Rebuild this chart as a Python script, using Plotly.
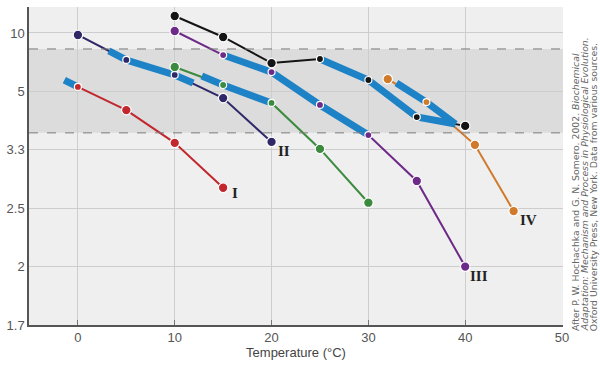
import plotly.graph_objects as go

# ---- data (temperature in °C, value as labelled on the y axis) ----
temps_I = [0, 5, 10, 15]
vals_I = [5.20, 4.31, 3.47, 2.74]
temps_II = [0, 5, 10, 15, 20]
vals_II = [9.67, 6.84, 5.82, 4.73, 3.49]
temps_G = [10, 15, 20, 25, 30]
vals_G = [6.32, 5.29, 4.55, 3.35, 2.56]
temps_III = [10, 15, 20, 25, 30, 35, 40]
vals_III = [10.35, 7.26, 5.99, 4.48, 3.64, 2.83, 2.00]
temps_K = [10, 15, 20, 25, 30, 35, 40]
vals_K = [14.1, 9.36, 6.60, 6.92, 5.54, 4.10, 3.86]
temps_IV = [32, 36, 41, 45]
vals_IV = [5.59, 4.58, 3.43, 2.47]

# highlighted (blue) stretches
hl_I_t, hl_I_v = [-1.4, 0], [5.54, 5.20]
hl_II_t, hl_II_v = [3.2, 5, 10, 11.9], [7.65, 6.84, 5.82, 5.39]
hl_G_t, hl_G_v = [12.8, 15, 20], [5.76, 5.29, 4.55]
hl_III_t, hl_III_v = [15, 20, 25, 30], [7.26, 5.99, 4.48, 3.64]
hl_K_t, hl_K_v = [25, 30, 35, 39], [6.92, 5.54, 4.10, 3.91]
hl_IV_t, hl_IV_v = [32.9, 36, 39], [5.39, 4.58, 3.91]

band_hi, band_lo = 7.85, 3.69

y_tick_pos = [0.1, 0.2, 0.3, 0.4, 0.5, 0.6]   # reciprocal positions
y_tick_text = ["10", "5", "3.3", "2.5", "2", "1.7"]
x_ticks = [0, 10, 20, 30, 40, 50]

credit_lines = [
    "After P. W. Hochachka and G. N. Somero. 2002. <i>Biochemical</i>",
    "<i>Adaptation: Mechanism and Process in Physiological Evolution.</i>",
    "Oxford University Press, New York. Data from various sources.",
]

inv = lambda vs: [1.0 / v for v in vs]

series = [
    (temps_I, vals_I, hl_I_t, hl_I_v, "#c1272d", "I"),
    (temps_II, vals_II, hl_II_t, hl_II_v, "#2e2868", "II"),
    (temps_G, vals_G, hl_G_t, hl_G_v, "#3b8a3e", None),
    (temps_III, vals_III, hl_III_t, hl_III_v, "#6e2a88", "III"),
    (temps_K, vals_K, hl_K_t, hl_K_v, "#141414", None),
    (temps_IV, vals_IV, hl_IV_t, hl_IV_v, "#d07a2c", "IV"),
]

fig = go.Figure()
for t, v, ht, hv, c, lab in series:
    fig.add_trace(go.Scatter(x=t, y=inv(v), mode="lines",
                             line=dict(color=c, width=2), hoverinfo="skip"))
for t, v, ht, hv, c, lab in series:
    fig.add_trace(go.Scatter(x=ht, y=inv(hv), mode="lines",
                             line=dict(color="#1e82c6", width=7), hoverinfo="skip"))
for t, v, ht, hv, c, lab in series:
    sizes = [7 if min(ht) <= x <= max(ht) else 9.5 for x in t]
    fig.add_trace(go.Scatter(x=t, y=inv(v), mode="markers",
                             marker=dict(color=c, size=sizes, opacity=1,
                                         line=dict(color="white", width=1.2))))

label_off = {"I": (12, -5), "II": (12, -9), "III": (14, -9), "IV": (15, -9)}
for t, v, ht, hv, c, lab in series:
    if lab:
        dx, dy = label_off[lab]
        fig.add_annotation(x=t[-1], y=1.0 / v[-1], text="<b>%s</b>" % lab,
                           showarrow=False, xanchor="center", yanchor="middle",
                           xshift=dx, yshift=dy,
                           font=dict(family="Liberation Serif", size=15, color="#222"))

# shaded band + dashed borders
fig.add_shape(type="rect", xref="paper", x0=0, x1=1, yref="y",
              y0=1 / band_hi, y1=1 / band_lo, fillcolor="#dcdcdd",
              line=dict(width=0), layer="below")
for b in (band_hi, band_lo):
    fig.add_shape(type="line", xref="paper", x0=0, x1=1, yref="y",
                  y0=1 / b, y1=1 / b, line=dict(color="#7a7a7a", width=1, dash="dash"),
                  layer="above")

for i, line in enumerate(credit_lines):
    fig.add_annotation(
        xref="paper", yref="paper", x=1, y=-0.025, xanchor="center", yanchor="bottom",
        xshift=13 + 9.2 * i, textangle=-90, showarrow=False, text=line,
        font=dict(family="DejaVu Sans", size=9.3, color="#666"))

fig.update_layout(
    width=600, height=367, showlegend=False,
    margin=dict(l=29, r=37, t=7, b=42, autoexpand=False),
    paper_bgcolor="white", plot_bgcolor="#efefef",
    font=dict(family="Liberation Sans", color="#555", size=13),
)
fig.update_xaxes(range=[-5.05, 50.1], tickvals=x_ticks, showgrid=True, automargin=False,
                 gridcolor="#cdcdcd", gridwidth=1, zeroline=False,
                 showline=True, linecolor="#555", linewidth=1.5,
                 ticks="inside", ticklen=5, tickcolor="#777",
                 title=dict(text="Temperature (°C)", standoff=4,
                            font=dict(size=13, color="#444")))
fig.update_yaxes(range=[0.6, 0.0555], tickvals=y_tick_pos, ticktext=y_tick_text,
                 automargin=False,
                 showgrid=True, gridcolor="#cdcdcd", gridwidth=1, zeroline=False,
                 showline=True, linecolor="#555", linewidth=1.5, ticks="")

fig.write_html("out.html", config={"displayModeBar": False},
               post_script="document.body.style.margin='0px';")
